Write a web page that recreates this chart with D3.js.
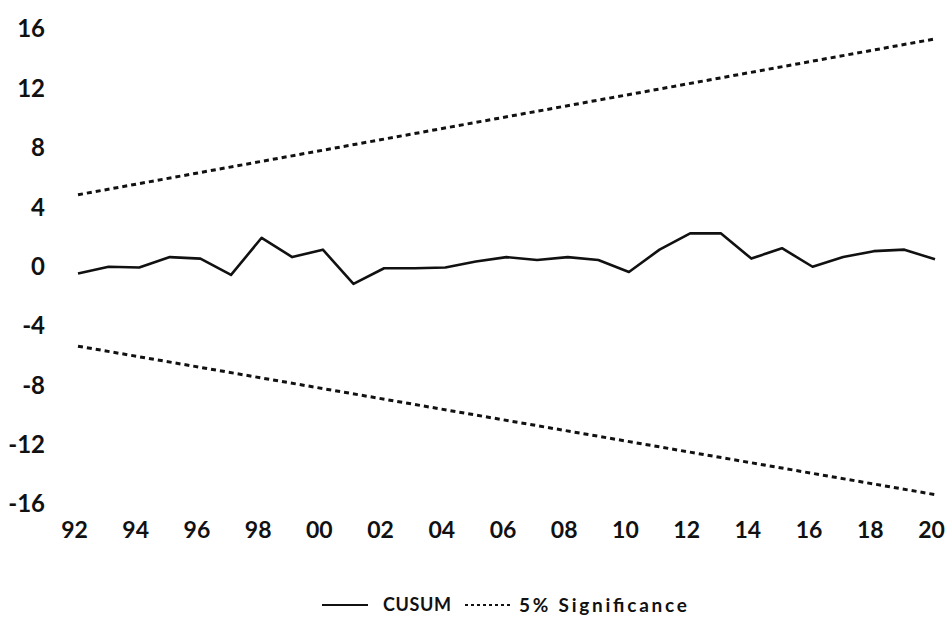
<!DOCTYPE html>
<html>
<head>
<meta charset="utf-8">
<script src="https://cdn.jsdelivr.net/npm/d3@7"></script>
<style>
  html, body { margin: 0; padding: 0; background: #fff; }
  svg { display: block; }
  text { font-family: Lato, "Open Sans", sans-serif; fill: #111; }
</style>
</head>
<body>
<svg id="chart" width="945" height="619"></svg>
<script>
// ---- data ----
const years = [1992,1993,1994,1995,1996,1997,1998,1999,2000,2001,2002,2003,2004,2005,2006,2007,2008,2009,2010,2011,2012,2013,2014,2015,2016,2017,2018,2019,2020];
const cusum = [-0.5,-0.05,-0.1,0.6,0.5,-0.6,1.9,0.6,1.1,-1.2,-0.15,-0.15,-0.1,0.3,0.6,0.4,0.6,0.4,-0.4,1.1,2.2,2.2,0.5,1.2,-0.05,0.6,1.0,1.1,0.45];
const sigYears = [1992, 2020];
const upper5 = [4.8, 15.3];
const lower5 = [-5.4, -15.4];
const yTicks = [16,12,8,4,0,-4,-8,-12,-16];
const xTicks = [1992,1994,1996,1998,2000,2002,2004,2006,2008,2010,2012,2014,2016,2018,2020];
const legendLabels = ["CUSUM", "5% Significance"];

// ---- chart ----
const svg = d3.select("#chart");
const x = d3.scaleLinear().domain([1992, 2020]).range([78, 935]);
const y = d3.scaleLinear().domain([-16, 16]).range([503.5, 28.5]);

const yAxis = d3.axisLeft(y).tickValues(yTicks).tickSize(0).tickPadding(0)
  .tickFormat(d => d);
const gy = svg.append("g").attr("transform", "translate(45,0)").call(yAxis);
gy.select(".domain").remove();
gy.selectAll("text").style("font-size", "24px").style("font-weight", "700")
  .attr("font-family", null).attr("dy", "0.35em");

const xAxis = d3.axisBottom(x).tickValues(xTicks).tickSize(0).tickPadding(0)
  .tickFormat(d => String(d % 100).padStart(2, "0"));
const gx = svg.append("g").attr("transform", "translate(-4,530)").call(xAxis);
gx.select(".domain").remove();
gx.selectAll("text").style("font-size", "23px").style("font-weight", "700")
  .attr("font-family", null).attr("dy", "0.35em").attr("y", 0);

const line = d3.line().x(d => x(d[0])).y(d => y(d[1]));

const sigPairs = (vals) => sigYears.map((yr, i) => [yr, vals[i]]);
[upper5, lower5].forEach(vals => {
  svg.append("path").datum(sigPairs(vals))
    .attr("d", line).attr("fill", "none").attr("stroke", "#111")
    .attr("stroke-width", 3).attr("stroke-dasharray", "5,4");
});

svg.append("path").datum(years.map((yr, i) => [yr, cusum[i]]))
  .attr("d", line).attr("fill", "none").attr("stroke", "#111")
  .attr("stroke-width", 2.6).attr("stroke-linejoin", "round");

// ---- legend ----
const lg = svg.append("g");
const ly = 605;
lg.append("line").attr("x1", 322).attr("x2", 368).attr("y1", ly).attr("y2", ly)
  .attr("stroke", "#111").attr("stroke-width", 2);
lg.append("text").attr("x", 383).attr("y", ly).attr("dy", "0.35em")
  .attr("textLength", 68).attr("lengthAdjust", "spacing")
  .style("font-size", "18px").style("font-weight", "700").text(legendLabels[0]);
lg.append("line").attr("x1", 465).attr("x2", 513).attr("y1", ly).attr("y2", ly)
  .attr("stroke", "#111").attr("stroke-width", 2).attr("stroke-dasharray", "3,3");
lg.append("text").attr("x", 519).attr("y", ly).attr("dy", "0.35em")
  .attr("textLength", 168).attr("lengthAdjust", "spacing")
  .style("font-size", "19px").style("font-weight", "700").text(legendLabels[1]);
</script>
</body>
</html>
